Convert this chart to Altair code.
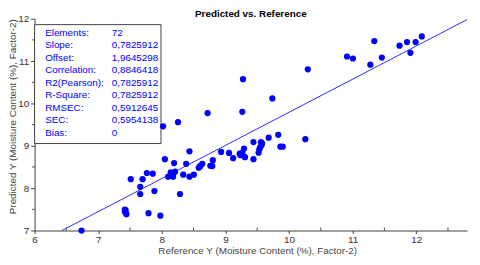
import altair as alt
import pandas as pd

# Reference (x) and predicted (y) values
ref_x = [6.738, 7.419, 7.419, 7.444, 7.791, 7.977, 7.512, 7.661, 7.661, 7.698,
         7.765, 7.858, 7.884, 8.048, 8.101, 8.178, 8.178, 8.209, 8.193, 8.286,
         8.337, 8.384, 8.435, 8.503, 8.435, 8.580, 8.605, 8.636, 8.763, 8.794,
         8.802, 8.933, 9.057, 9.122, 9.224, 9.266, 9.293, 9.308, 9.441, 9.441,
         9.522, 9.534, 9.545, 9.560, 9.568, 9.680, 9.831, 9.865, 9.901, 10.257,
         8.020, 8.255, 8.720, 9.266, 9.277, 9.738, 10.296, 10.912, 11.005, 11.279,
         11.341, 11.460, 11.738, 11.856, 11.909, 11.991, 12.088, 8.141, 9.235, 7.432,
         9.576, 8.601]
pred_y = [7.000, 7.496, 7.443, 7.387, 7.410, 7.349, 8.212, 8.032, 7.862, 8.212,
          8.358, 8.342, 7.932, 8.685, 8.272, 8.272, 8.351, 8.389, 8.591, 7.862,
          8.319, 8.575, 8.272, 8.319, 8.871, 8.482, 8.528, 8.575, 8.528, 8.521,
          8.661, 8.855, 8.831, 8.708, 8.813, 8.841, 8.934, 8.731, 9.088, 8.685,
          8.836, 8.918, 8.964, 9.088, 9.011, 9.192, 9.260, 8.980, 8.980, 9.155,
          9.460, 9.558, 9.773, 9.803, 10.572, 10.117, 10.805, 11.108, 11.061, 10.914,
          11.473, 11.084, 11.364, 11.450, 11.194, 11.450, 11.581, 8.370, 8.778, 7.473,
          9.057, 8.510]

# Regression line end points
line_x = [6.43, 12.8]
line_y = [7.0, 11.98]

x_ticks = [6, 7, 8, 9, 10, 11, 12]
y_ticks = [7, 8, 9, 10, 11, 12]
x_minor = [6.5, 7.5, 8.5, 9.5, 10.5, 11.5, 12.5]
y_minor = [7.5, 8.5, 9.5, 10.5, 11.5]

stat_names = ["Elements:", "Slope:", "Offset:", "Correlation:", "R2(Pearson):",
              "R-Square:", "RMSEC:", "SEC:", "Bias:"]
stat_values = ["72", "0,7825912", "1,9645298", "0,8846418", "0,7825912",
               "0,7825912", "0,5912645", "0,5954138", "0"]

X_TITLE = "Reference Y (Moisture Content (%), Factor-2)"
Y_TITLE = "Predicted Y (Moisture Content (%), Factor-2)"

FONT = "Liberation Sans"
AX = "#404040"
BLUE = "#0000ff"
W, H = 439, 215

xscale = alt.Scale(domain=[6, 12.8], nice=False, zero=False)
yscale = alt.Scale(domain=[7, 12], nice=False, zero=False)

pts = pd.DataFrame({"x": ref_x, "y": pred_y})
ln = pd.DataFrame({"x": line_x, "y": line_y})
xm = pd.DataFrame({"x": x_minor})
ym = pd.DataFrame({"y": y_minor})
one = pd.DataFrame({"a": [0]})

x_axis = alt.Axis(values=x_ticks, tickSize=3, labelFontSize=10, labelFont=FONT,
                  labelColor="#333333", labelPadding=1, labelFlush=False,
                  domainColor=AX, tickColor=AX, grid=False,
                  titleFont=FONT, titleFontSize=10, titleFontWeight="normal",
                  titleColor="#444444", titleX=226, titleY=23.5,
                  titleBaseline="alphabetic")
y_axis = alt.Axis(values=y_ticks, tickSize=4, labelFontSize=10, labelFont=FONT,
                  labelColor="#333333", labelPadding=2, labelFlush=False,
                  domainColor=AX, tickColor=AX, grid=False,
                  titleFont=FONT, titleFontSize=10, titleFontWeight="normal",
                  titleColor="#444444", titleX=-22, titleY=99, titleAngle=-90,
                  titleBaseline="middle", titleAlign="center")


def X():
    return alt.X("x:Q", scale=xscale, axis=x_axis, title=X_TITLE)


def Y():
    return alt.Y("y:Q", scale=yscale, axis=y_axis, title=Y_TITLE)


points = alt.Chart(pts).mark_circle(size=40, color=BLUE, opacity=1).encode(
    x=X(), y=Y())

line = alt.Chart(ln).mark_line(color="#2a2aff", strokeWidth=1).encode(
    x=X(), y=Y())

xminor = alt.Chart(xm).mark_rule(color=AX, strokeWidth=1).encode(
    x=X(), y=alt.value(H), y2=alt.value(H - 3))

yminor = alt.Chart(ym).mark_rule(color=AX, strokeWidth=1).encode(
    y=Y(), x=alt.value(-2.5), x2=alt.value(0))

box = alt.Chart(one).mark_rect(fill="white", stroke=AX, strokeWidth=1).encode(
    x=alt.value(0), x2=alt.value(128.3), y=alt.value(6), y2=alt.value(126.7),
)

names = alt.Chart(one).mark_text(align="left", baseline="top", lineBreak="\n",
                                 lineHeight=12.7, fontSize=10, font=FONT,
                                 color=BLUE).encode(
    x=alt.value(10.7), y=alt.value(9.2), text=alt.value("\n".join(stat_names)),
)
vals = alt.Chart(one).mark_text(align="left", baseline="top", lineBreak="\n",
                                lineHeight=12.7, fontSize=10, font=FONT,
                                color=BLUE).encode(
    x=alt.value(78.3), y=alt.value(9.2), text=alt.value("\n".join(stat_values)),
)

chart = alt.layer(box, line, points, xminor, yminor, names, vals).properties(
    width=W, height=H,
    title=alt.Title("Predicted vs. Reference", fontSize=10, fontWeight="bold",
                    font=FONT, color="black", offset=0, dy=5, anchor="middle"),
    padding={"left": 27, "top": 9, "right": 5, "bottom": 25},
    autosize=alt.AutoSizeParams(type="none"),
).configure_view(stroke=None)

chart.save("out.html", embed_options={"renderer": "svg", "actions": False})
